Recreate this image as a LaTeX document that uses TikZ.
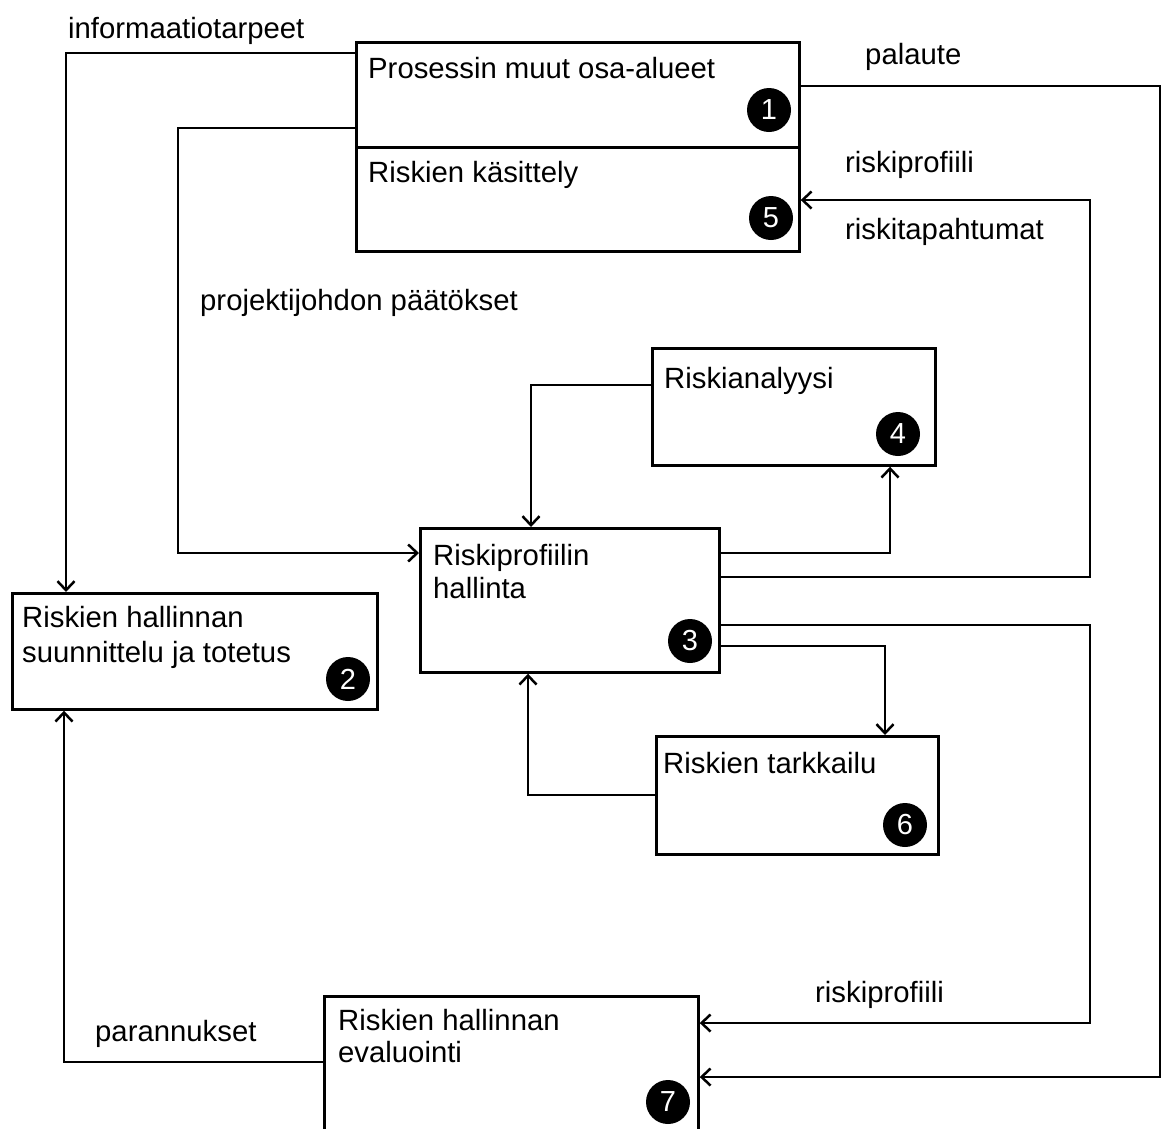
\documentclass[tikz,border=0pt]{standalone}
\usepackage{fontspec}
\setmainfont{Liberation Sans}
\usetikzlibrary{calc,arrows.meta}
\begin{document}
\begin{tikzpicture}[x=1pt,y=-1pt,
  box/.style={draw, line width=2.7pt, anchor=north west, inner sep=0pt},
  txt/.style={anchor=base west, inner sep=0pt, font=\fontsize{29.3}{33}\selectfont},
  lbl/.style={anchor=base west, inner sep=0pt, font=\fontsize{29.3}{33}\selectfont},
  num/.style={circle, fill=black, text=white, minimum size=44pt, inner sep=0pt, font=\fontsize{29}{29}\selectfont},
  arr/.style={line width=2.5pt, -{Straight Barb[length=9pt,width=17pt,line width=2.5pt]}}]
\clip (0,0) rectangle (1164,1128);
\fill[white] (0,0) rectangle (1164,1128);

% boxes
\node[box, minimum width=443pt, minimum height=105pt] (proc) at (355,41) {};
\node[box, minimum width=443pt, minimum height=104pt] (kasit) at (355,146) {};
\node[box, minimum width=283pt, minimum height=117pt] (anal) at (651,347) {};
\node[box, minimum width=299pt, minimum height=144pt] (prof) at (419,527) {};
\node[box, minimum width=365pt, minimum height=116pt] (plan) at (11,592) {};
\node[box, minimum width=282pt, minimum height=118pt] (tark) at (655,735) {};
\node[box, minimum width=374pt, minimum height=160pt] (eval) at (323,995) {};

% box texts, one node per line
\node[txt] (tproc) at ($(proc.north west)+(13,37)$) {Prosessin muut osa-alueet};
\node[txt] (tkasit) at ($(kasit.north west)+(13,36)$) {Riskien käsittely};
\node[txt] (tanal) at ($(anal.north west)+(13,41)$) {Riskianalyysi};
\node[txt] (tprofa) at ($(prof.north west)+(14,38)$) {Riskiprofiilin};
\node[txt] (tprofb) at ($(prof.north west)+(14,71)$) {hallinta};
\node[txt] (tplana) at ($(plan.north west)+(11,35)$) {Riskien hallinnan};
\node[txt] (tplanb) at ($(plan.north west)+(11,70)$) {suunnittelu ja totetus};
\node[txt] (ttark) at ($(tark.north west)+(8,38)$) {Riskien tarkkailu};
\node[txt] (tevala) at ($(eval.north west)+(15,35)$) {Riskien hallinnan};
\node[txt] (tevalb) at ($(eval.north west)+(15,67)$) {evaluointi};

% numbered markers
\node[num] (n1) at (769,110) {1};
\node[num] (n5) at (771,218) {5};
\node[num] (n4) at (898,434) {4};
\node[num] (n3) at (690,641) {3};
\node[num] (n2) at (348,679) {2};
\node[num] (n6) at (905,825) {6};
\node[num] (n7) at (668,1102) {7};

% connectors
\draw[arr] (proc.west |- 0,53) -| (66,0 |- plan.north);
\draw[arr] (proc.west |- 0,128) -| (178,553) -- (prof.west |- 0,553);
\draw[arr] (proc.east |- 0,86) -- (1160,86) -- (1160,1077) -- (eval.east |- 0,1077);
\draw[arr] (prof.east |- 0,577) -- (1090,577) -- (1090,200) -- (kasit.east |- 0,200);
\draw[arr] (prof.east |- 0,553) -| (890,0 |- anal.south);
\draw[arr] (anal.west |- 0,385) -| (531,0 |- prof.north);
\draw[arr] (prof.east |- 0,625) -- (1090,625) -- (1090,1023) -- (eval.east |- 0,1023);
\draw[arr] (prof.east |- 0,646) -| (885,0 |- tark.north);
\draw[arr] (tark.west |- 0,795) -| (528,0 |- prof.south);
\draw[arr] (eval.west |- 0,1062) -| (64,0 |- plan.south);

% connector labels
\node[lbl] (l1) at (68,38) {informaatiotarpeet};
\node[lbl] (l2) at (865,64) {palaute};
\node[lbl] (l3) at (845,172) {riskiprofiili};
\node[lbl] (l4) at (845,239) {riskitapahtumat};
\node[lbl] (l5) at (200,310) {projektijohdon päätökset};
\node[lbl] (l6) at (815,1002) {riskiprofiili};
\node[lbl] (l7) at (95,1041) {parannukset};
\end{tikzpicture}
\end{document}
